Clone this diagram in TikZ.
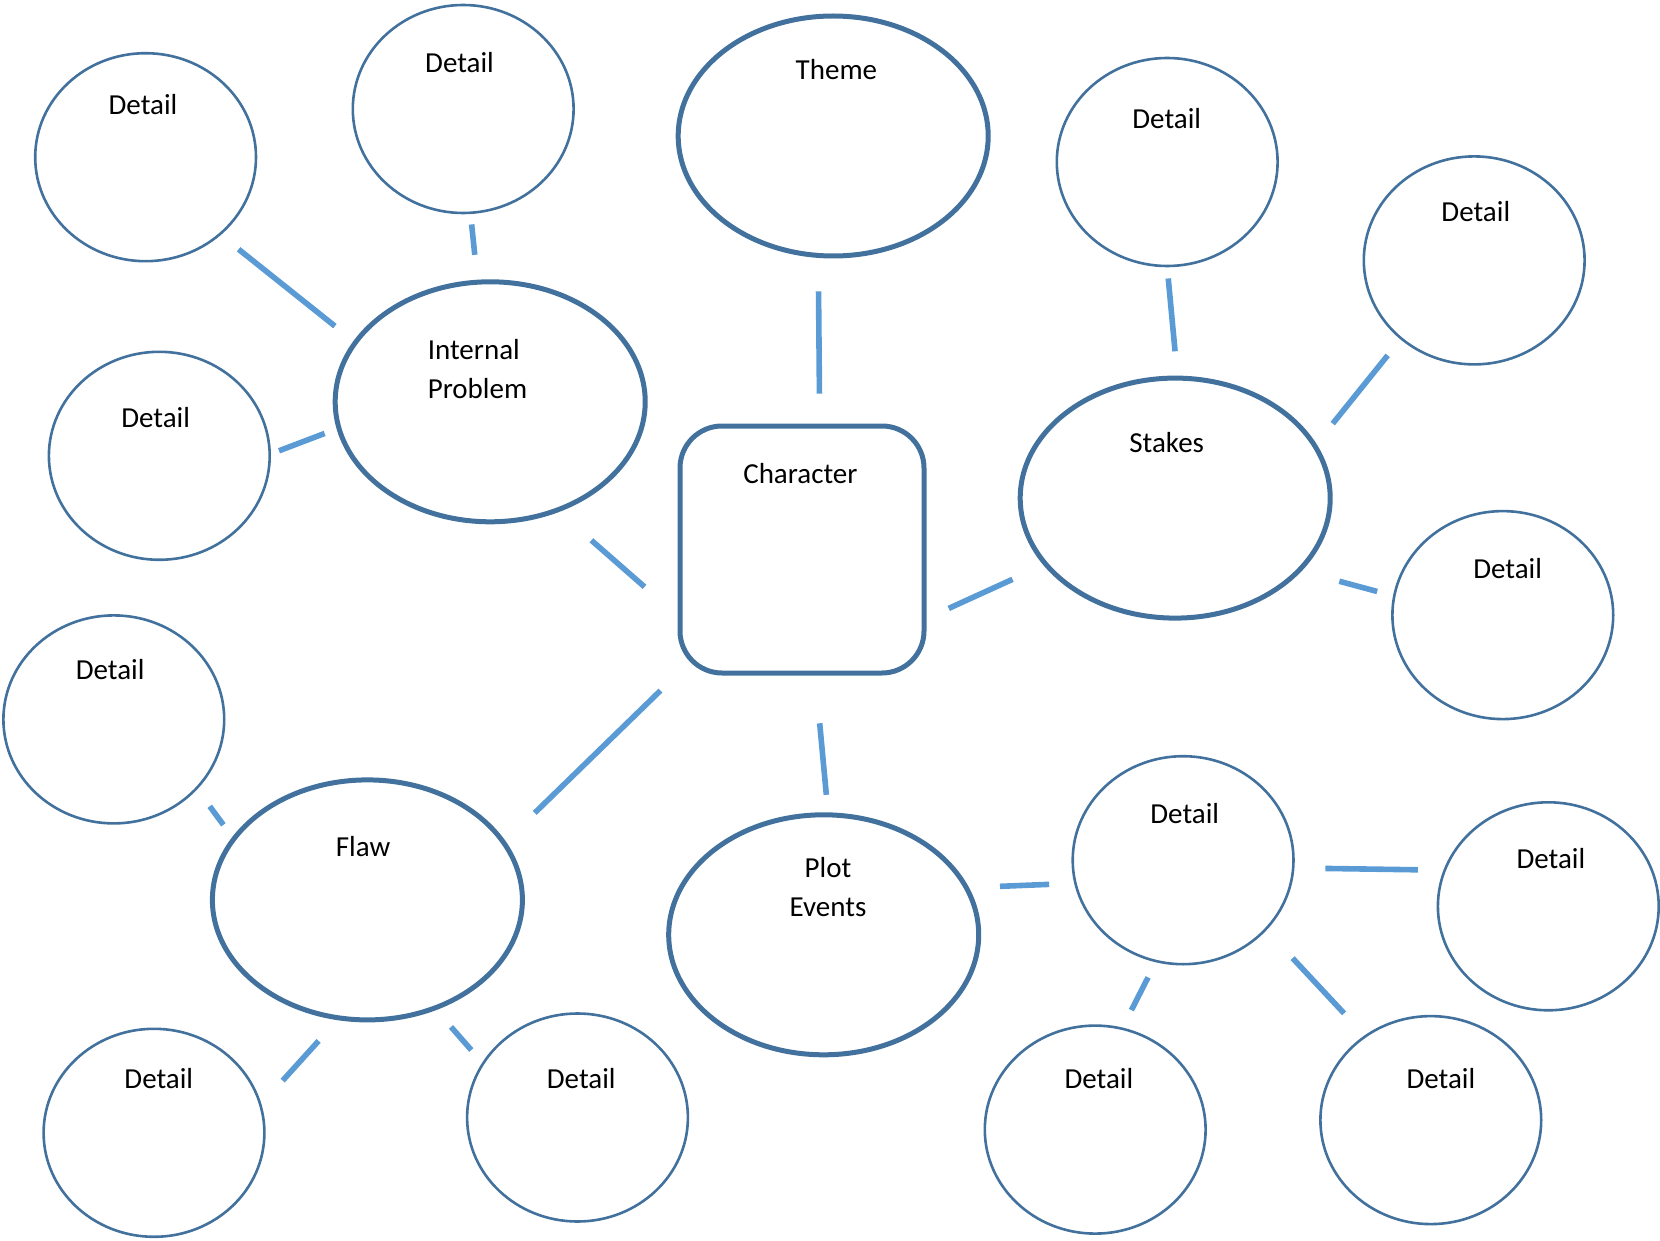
\documentclass[tikz,border=0pt]{standalone}
\usepackage{fontspec}
\setmainfont{Carlito}
\usetikzlibrary{shapes.geometric}
\definecolor{mapblue}{HTML}{41719C}
\definecolor{linkblue}{HTML}{5B9BD5}

\begin{document}
\begin{tikzpicture}[x=0.5pt,y=-0.5pt,
    font=\fontsize{14.5}{19.5}\selectfont,
    every label/.style={inner sep=0pt},
    topic/.style={ellipse,draw=mapblue,line width=2.5pt,minimum width=155pt,minimum height=120pt},
    detail/.style={ellipse,draw=mapblue,line width=1.3pt,minimum width=110.4pt,minimum height=104pt},
    hub/.style={rectangle,draw=mapblue,line width=2.5pt,rounded corners=21pt,minimum width=122pt,minimum height=123.5pt},
    link/.style={linkblue,line width=2.8pt}]
\useasboundingbox (0,0) rectangle (1660,1241);

% main topics
\node[hub, label={[shift={(-1.6,-76.3)}]center:Character}] (char) at (802,549.5) {};
\node[topic, label={[shift={(3.2,-66.1)}]center:Theme}] (theme) at (833.2,136) {};
\node[topic, label={[shift={(-12.7,-32.8)},align=left]center:Internal\\Problem}] (ip) at (490.2,401.8) {};
\node[topic, label={[shift={(-8.5,-55.6)}]center:Stakes}] (stakes) at (1175.2,498.1) {};
\node[topic, label={[shift={(-4.3,-52.9)}]center:Flaw}] (flaw) at (367.4,899.9) {};
\node[topic, label={[shift={(4.3,-47.6)},align=center]center:Plot\\Events}] (plot) at (823.7,934.8) {};

% details
\foreach \n/\x/\y/\dx/\dy in {d1/145.6/157.2/-2.6/-52.4, d2/463.2/109/-3.7/-46.6,
    d3/159.3/455.8/-3.7/-38.6, d4/1167.2/162/-0.5/-43.4, d5/1474.2/260.4/1.6/-48.7,
    d6/1502.8/615.1/4.8/-46.6, d7/113.8/719.4/-3.7/-50.3, d8/154/1132.8/4.8/-54,
    d9/577.5/1117.5/3.7/-38.6, d10/1183.1/860.2/1.6/-47.1, d11/1548.3/906.3/2.6/-47.6,
    d12/1095.2/1129.6/3.7/-50.8, d13/1430.8/1120.1/10.1/-41.3}
  \node[detail, label={[shift={(\dx,\dy)}]center:Detail}] (\n) at (\x,\y) {};

% connectors (they stop short of the shapes)
\foreach \a/\b/\ga/\gb in {d1.-46/ip.156/11.4/11.9, d2.-86/ip.96/5.2/12.5,
    d3.1/ip.190/4.3/6.4, theme.-97/char.82/16.7/14.9, ip.-58/char.208/21.5/21.9,
    char.-29/stakes.207/12.2/17, d4.-90/stakes.89/5.6/12.2, stakes.21/d5.227/13/10.2,
    stakes.-30/d6.170/19.5/8.2, char.-135/flaw.23/11.9/20.3, char.-84/plot.88/24/8.8,
    d7.-40/flaw.155/10.5/7.5, flaw.-104/d8.15/14/15.8, flaw.-58/d9.150/11.2/8.3,
    plot.18/d10.192/15.5/12.5, d10.-4/d11.161/15.4/12.75, d10.-105/d12.75/8.45/9.75,
    d10.-40/d13.128/19.1/15}
  \draw[link, shorten <=\ga pt, shorten >=\gb pt] (\a) -- (\b);
\end{tikzpicture}
\end{document}
